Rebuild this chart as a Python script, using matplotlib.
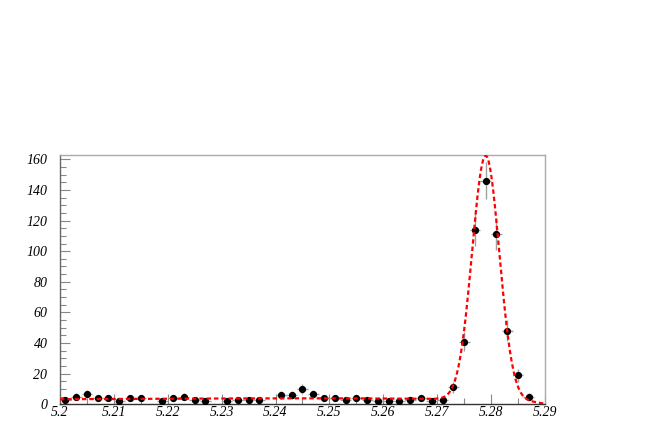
import numpy as np
import matplotlib
matplotlib.use("Agg")
import matplotlib.pyplot as plt
from matplotlib.ticker import MultipleLocator

# histogram: bin centres (width 0.002) and counts
centers = [5.201, 5.203, 5.205, 5.207, 5.209, 5.211, 5.213, 5.215, 5.219,
           5.221, 5.223, 5.225, 5.227, 5.231, 5.233, 5.235, 5.237,
           5.241, 5.243, 5.245, 5.247, 5.249, 5.251, 5.253, 5.255, 5.257,
           5.259, 5.261, 5.263, 5.265, 5.267, 5.269, 5.271, 5.273, 5.275,
           5.277, 5.279, 5.281, 5.283, 5.285, 5.287]
counts = [3, 5, 7, 4, 4, 2, 4, 4, 2,
          4, 5, 3, 2, 2, 3, 3, 3,
          6, 6, 10, 7, 4, 4, 3, 4, 3,
          2, 2, 2, 3, 4, 2, 3, 11, 41,
          114, 146, 111, 48, 19, 5]
bin_half = 0.001

# fit: gaussian signal + ARGUS background
g_amp, g_mean, g_sigma = 159.5, 5.2790, 0.00252
a_norm, a_m0, a_chi = 9.5, 5.29, -30.0


def fit(m):
    x = np.clip(1 - (m / a_m0) ** 2, 0, None)
    bg = a_norm * m * np.sqrt(x) * np.exp(a_chi * x)
    return bg + g_amp * np.exp(-0.5 * ((m - g_mean) / g_sigma) ** 2)


fig = plt.figure(figsize=(6.54, 4.36), dpi=100)
ax = fig.add_axes([0.0917, 0.0727, 0.7416, 0.5718])

c = np.array(counts, dtype=float)
ax.errorbar(centers, counts, xerr=bin_half, yerr=np.sqrt(c), fmt='none',
            ecolor='#a0a0a0', elinewidth=1.0, capsize=0, zorder=2)
ax.plot(centers, counts, 'o', color='black', markersize=4.2, zorder=3)

m = np.linspace(5.2, 5.29, 800)
ax.plot(m, fit(m), color='red', lw=1.6, linestyle=(0, (2.0, 1.3)), zorder=4,
        clip_on=True)

ax.set_xlim(5.2, 5.29)
ax.set_ylim(0, 162.8)
ax.xaxis.set_minor_locator(MultipleLocator(0.005))
ax.yaxis.set_major_locator(MultipleLocator(20))
ax.yaxis.set_minor_locator(MultipleLocator(5))
ax.set_xticks(np.round(np.arange(5.2, 5.2901, 0.01), 2))
ax.set_xticklabels(['5.2', '5.21', '5.22', '5.23', '5.24', '5.25', '5.26',
                    '5.27', '5.28', '5.29'])

for lab in ax.get_xticklabels() + ax.get_yticklabels():
    lab.set_family('Liberation Serif')
    lab.set_style('italic')
    lab.set_fontsize(10)

ax.tick_params(which='both', direction='in', color='#888888')
ax.tick_params(which='major', length=7, width=0.8)
ax.tick_params(which='minor', length=4, width=0.8)
ax.tick_params(axis='y', pad=9)
ax.tick_params(axis='x', pad=1)

for side in ['top', 'right']:
    ax.spines[side].set_color('#aaaaaa')
ax.spines['left'].set_color('#666666')
ax.spines['bottom'].set_color('#333333')
for s in ax.spines.values():
    s.set_linewidth(1.0)

fig.savefig('out.png', dpi=100)
